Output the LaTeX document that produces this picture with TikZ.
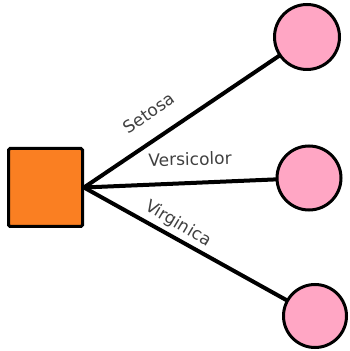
\documentclass[tikz,border=0pt]{standalone}
\usepackage{fontspec}
\newfontfamily\labfont{DejaVu Sans}
\usetikzlibrary{backgrounds}
\definecolor{boxorange}{HTML}{FA7F22}
\definecolor{leafpink}{HTML}{FFA6C4}
\definecolor{labgrey}{HTML}{404040}
\begin{document}
\begin{tikzpicture}[x=1pt,y=1pt,
  root/.style={draw=black,line width=3pt,fill=boxorange,rounded corners=1.5pt,
    minimum width=74pt,minimum height=78pt,inner sep=0pt},
  leaf/.style={circle,draw=black,line width=3pt,fill=leafpink,inner sep=0pt},
  edge/.style={line width=4pt,black},
  lab/.style={text=labgrey,font=\labfont\fontsize{17}{20}\selectfont,inner sep=0pt}]
  \useasboundingbox (0,0) rectangle (349,351);
  \node[root] (sq) at (45.5,163.5) {};
  \node[leaf,minimum size=65pt] (c1) at (307,314) {};
  \node[leaf,minimum size=64pt] (c2) at (309,173) {};
  \node[leaf,minimum size=63pt] (c3) at (315,35) {};
  \begin{scope}[on background layer]
    \draw[edge] (sq.east) -- (c1.center);
    \draw[edge] (sq.east) -- (c2.center);
    \draw[edge] (sq.east) -- (c3.center);
  \end{scope}
  \node[lab,rotate=35] (l1) at (149,238) {Setosa};
  \node[lab,rotate=1.5] (l2) at (190,192) {Versicolor};
  \node[lab,rotate=-31] (l3) at (178,127) {Virginica};
\end{tikzpicture}
\end{document}
